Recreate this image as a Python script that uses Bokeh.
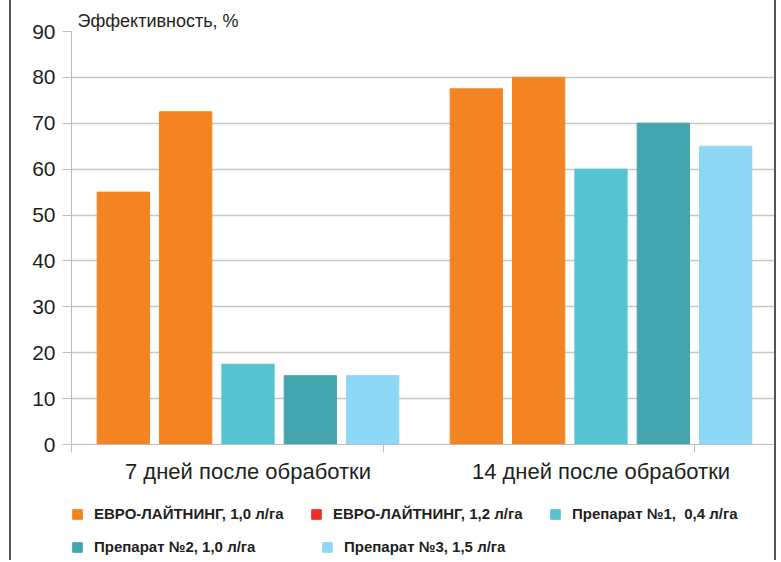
import numpy as np
from bokeh.plotting import figure
from bokeh.layouts import column
from bokeh.models import (Range1d, ColumnDataSource, LinearAxis, FixedTicker, Legend,
                          LegendItem)
from bokeh.transform import dodge
from bokeh.embed import file_html
from bokeh.resources import INLINE

# ---- data ----
groups = ["7 дней после обработки", "14 дней после обработки"]
series = ["ЕВРО-ЛАЙТНИНГ, 1,0 л/га", "ЕВРО-ЛАЙТНИНГ, 1,2 л/га", "Препарат №1,  0,4 л/га",
          "Препарат №2, 1,0 л/га", "Препарат №3, 1,5 л/га"]
values_7 = [55, 72.5, 17.5, 15, 15]
values_14 = [77.5, 80, 60, 70, 65]
bar_colors = ["#F38422", "#F38422", "#55C4D0", "#44A5AF", "#8ED7F6"]
legend_colors = ["#F38422", "#EE3124", "#55C4D0", "#44A5AF", "#8ED7F6"]
y_ticks = [0, 10, 20, 30, 40, 50, 60, 70, 80, 90]
y_label = "Эффективность, %"

FONT = "Liberation Sans"
TXT = "#231F20"
AX = "#BDBDBD"
BORDER = {"border-left": "2px solid #555555", "border-right": "2px solid #555555"}
W = 767

group_pos = [i + 0.5 for i in range(len(groups))]

p = figure(width=W, height=490, x_range=Range1d(0, len(groups)),
           y_range=Range1d(0, 90), output_backend="svg", toolbar_location=None,
           x_axis_location=None, min_border_left=60, min_border_right=1,
           min_border_top=31, min_border_bottom=46)
p.outline_line_color = None
p.styles = BORDER
p.margin = (0, 0, 0, 9)

# y-axis caption drawn as a left-aligned title above the frame
p.title.text = y_label
p.title.align = "left"
p.title.offset = 6
p.title.standoff = 1
p.title.text_font = FONT
p.title.text_font_size = "18px"
p.title.text_font_style = "normal"
p.title.text_color = TXT

p.xgrid.visible = False
p.ygrid.grid_line_color = "#C8C8C8"
p.ygrid.grid_line_width = 1.3
p.yaxis.ticker = y_ticks
p.yaxis.axis_line_color = AX
p.yaxis.major_tick_line_color = AX
p.yaxis.major_tick_in = 0
p.yaxis.major_tick_out = 9
p.yaxis.minor_tick_line_color = None
p.yaxis.major_label_standoff = 7
p.yaxis.major_label_text_font = FONT
p.yaxis.major_label_text_font_size = "21px"
p.yaxis.major_label_text_color = TXT

# x axis: group names as labels, separators drawn as minor ticks
x_axis = LinearAxis(ticker=FixedTicker(ticks=group_pos, minor_ticks=[0, 0.883, 1.764]),
                    major_label_overrides={pos: g for pos, g in zip(group_pos, groups)},
                    axis_line_color=AX, major_tick_line_color=None, major_tick_in=0,
                    major_tick_out=0, minor_tick_line_color=AX, minor_tick_in=0,
                    minor_tick_out=8, major_label_standoff=6,
                    major_label_text_font=FONT, major_label_text_font_size="22px",
                    major_label_text_color=TXT)
p.add_layout(x_axis, "below")

for i, s in enumerate(series):
    src = ColumnDataSource(dict(pos=group_pos, val=[values_7[i], values_14[i]]))
    p.vbar(x=dodge("pos", (i - 2) * 0.1766), top="val",
           width=0.148, color=bar_colors[i], source=src)

# ---- legend panel ----
q = figure(width=W, height=70, x_range=Range1d(0, 1), y_range=Range1d(0, 1),
           output_backend="svg", toolbar_location=None, x_axis_location=None,
           y_axis_location=None, min_border=0)
q.outline_line_color = None
q.grid.visible = False
q.styles = BORDER
q.margin = (0, 0, 0, 9)

# swatch renderers (no visible marks; they only carry the legend colours)
swatches = [q.vbar(x=np.array([np.nan]), top=np.array([np.nan]), width=0.1, color=c)
            for c in legend_colors]

def make_legend(idx, loc, label_width):
    lg = Legend(items=[LegendItem(label=series[k], renderers=[swatches[k]]) for k in idx],
                location=loc, orientation="horizontal", spacing=0,
                glyph_width=12, glyph_height=12, label_standoff=11, label_width=label_width,
                padding=0, margin=0, border_line_color=None, background_fill_alpha=0,
                label_text_font=FONT, label_text_font_style="bold",
                label_text_font_size="15px", label_text_color=TXT)
    q.add_layout(lg, "center")

make_legend([0, 1, 2], (0, 38), 216)
make_legend([3, 4], (0, 5), 227)

open("out.html", "w").write(file_html(column(p, q), INLINE))
